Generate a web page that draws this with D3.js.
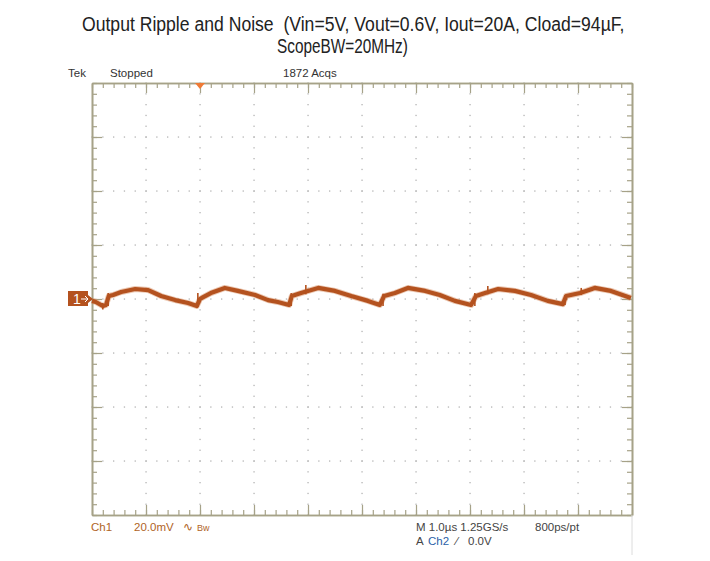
<!DOCTYPE html>
<html>
<head>
<meta charset="utf-8">
<script src="https://cdn.jsdelivr.net/npm/d3@7"></script>
<style>
  body { margin: 0; background: #fff; }
  text { font-family: "Liberation Sans", Arial, sans-serif; white-space: pre; }
</style>
</head>
<body>
<script>
// chart size
const width = 710, height = 561;
const margin = { top: 83, right: 78, bottom: 46, left: 92 };

// title lines, with the span each one fills in the picture
const titleLines = [
  "Output Ripple and Noise  (Vin=5V, Vout=0.6V, Iout=20A, Cload=94\u00b5F,",
  "ScopeBW=20MHz)"
];
const titleSpan = [[82, 625], [277, 408]];

// ripple trace: time in us (trigger at 0), voltage in mV (ch1 ref at 0)
const timeUs  = [-2.00, -1.93, -1.80, -1.74, -1.69, -1.61, -1.46, -1.20, -0.96, -0.72, -0.46, -0.22, -0.06, 0.00,
                 0.06, 0.20, 0.46, 0.70, 1.02, 1.26, 1.44, 1.65, 1.70, 1.87, 2.19, 2.50, 2.80, 3.11, 3.33, 3.41,
                 3.61, 3.85, 4.17, 4.44, 4.72, 5.02, 5.11, 5.28, 5.52, 5.83, 6.13, 6.44, 6.72, 6.78, 7.04, 7.31,
                 7.61, 7.98];
const rippleMv = [-0.7, -1.1, -2.6, -2.2, 1.1, 1.5, 2.6, 3.7, 3.3, 1.1, -0.4, -1.5, -2.6, 0.0,
                  0.7, 2.2, 4.1, 3.0, 1.5, -0.4, -1.1, -2.2, 1.1, 2.2, 4.1, 3.0, 1.1, -0.7, -2.2, 1.1,
                  2.2, 4.1, 3.0, 1.5, -0.7, -2.2, 1.1, 2.2, 3.7, 3.0, 1.5, -0.7, -1.9, 1.1, 2.2, 4.1,
                  3.0, 0.4];

// switching noise spikes: time, low and high voltage (mV)
const spikeT  = [-1.80, -1.70, -0.04, 1.69, 1.96, 3.39, 5.09, 5.33, 6.76, 7.06];
const spikeLo = [-3.9, -2.6, -3.0, -2.6, 1.8, -2.6, -2.6, 1.8, -2.2, 1.5];
const spikeHi = [-1.5, 2.2, 2.2, 2.2, 5.2, 1.9, 2.2, 4.8, 1.5, 4.1];

// scope readouts
const topLabels = [["Tek", 68], ["Stopped", 110], ["1872 Acqs", 283]];
const chLabels = ["Ch1", "20.0mV", "\u223f", "Bw"];
const timebaseLabels = ["M 1.0\u00b5s 1.25GS/s", "800ps/pt"];
const triggerLabels = ["A", "Ch2", "\u2215", "0.0V"];

const frameColor = "#a6a288", gridColor = "#b4b4b4", traceColor = "#b4521f";
const readoutFont = "\"DejaVu Sans Condensed\", \"Liberation Sans\", sans-serif";

const svg = d3.select("body").append("svg")
  .attr("width", width)
  .attr("height", height);

const x = d3.scaleLinear().domain([-2, 8]).range([margin.left, width - margin.right]);
const y = d3.scaleLinear().domain([-80, 80]).range([height - margin.bottom, margin.top]);

// title (the original face is a condensed one, so squeeze each line to its width)
svg.append("g").selectAll("text")
  .data(titleLines)
  .enter().append("text")
  .attr("font-size", 21)
  .attr("fill", "#222")
  .text(d => d)
  .each(function(d, i) {
    const k = (titleSpan[i][1] - titleSpan[i][0]) / this.getComputedTextLength();
    d3.select(this).attr("transform", `translate(${titleSpan[i][0]},${31 + i * 22}) scale(${k},1)`);
  });

// dotted graticule
const majorX = d3.range(-1, 8, 1), majorY = d3.range(-60, 61, 20);
const minorX = d3.range(-2, 8.001, 0.2), minorY = d3.range(-80, 80.001, 4);
const dots = [];
majorX.forEach(t => minorY.forEach(v => dots.push([t, v])));
majorY.forEach(v => minorX.forEach(t => dots.push([t, v])));
svg.append("g").selectAll("rect")
  .data(dots)
  .enter().append("rect")
  .attr("x", d => x(d[0]) - 0.6)
  .attr("y", d => y(d[1]) - 0.6)
  .attr("width", 1.3)
  .attr("height", 1.3)
  .attr("fill", gridColor);

// frame with inward ticks, built from axes
function frame(axis, transform, scale, minor, major) {
  const gMinor = svg.append("g").attr("transform", transform)
    .call(axis(scale).tickValues(minor).tickSize(-5).tickSizeOuter(0).tickFormat(""));
  const gMajor = svg.append("g").attr("transform", transform)
    .call(axis(scale).tickValues(major).tickSize(-10).tickSizeOuter(0).tickFormat(""));
  [gMinor, gMajor].forEach(g => {
    g.selectAll("line").attr("stroke", frameColor).attr("stroke-width", 1.2);
    g.select(".domain").attr("stroke", frameColor).attr("stroke-width", 1.6);
  });
}
frame(d3.axisTop, `translate(0,${margin.top})`, x, minorX, majorX);
frame(d3.axisBottom, `translate(0,${height - margin.bottom})`, x, minorX, majorX);
frame(d3.axisLeft, `translate(${margin.left},0)`, y, minorY, majorY);
frame(d3.axisRight, `translate(${width - margin.right},0)`, y, minorY, majorY);

// thin edge line below the frame on the right
svg.append("line")
  .attr("x1", x(8)).attr("x2", x(8))
  .attr("y1", y(-80)).attr("y2", 555)
  .attr("stroke", "#dcdcdc");

// trace
const line = d3.line().x(d => x(d[0])).y(d => y(d[1]));
svg.append("path")
  .datum(timeUs.map((t, i) => [t, rippleMv[i]]))
  .attr("d", line)
  .attr("fill", "none")
  .attr("stroke", "#d9946a")
  .attr("stroke-width", 6)
  .attr("stroke-linejoin", "round")
  .attr("opacity", 0.5);
svg.append("path")
  .datum(timeUs.map((t, i) => [t, rippleMv[i]]))
  .attr("d", line)
  .attr("fill", "none")
  .attr("stroke", traceColor)
  .attr("stroke-width", 4.2)
  .attr("stroke-linejoin", "round");
svg.append("g").selectAll("line")
  .data(spikeT)
  .enter().append("line")
  .attr("x1", d => x(d)).attr("x2", d => x(d))
  .attr("y1", (d, i) => y(spikeLo[i]))
  .attr("y2", (d, i) => y(spikeHi[i]))
  .attr("stroke", traceColor)
  .attr("stroke-width", 1.6);

// trigger position marker
svg.append("path")
  .attr("d", `M${x(0) - 5},${margin.top} L${x(0) + 5},${margin.top} L${x(0)},${margin.top + 6} Z`)
  .attr("fill", "#f07a35");

// channel 1 ground marker
const c1 = svg.append("g").attr("transform", `translate(68,${y(0)})`);
c1.append("rect").attr("x", 0).attr("y", -8).attr("width", 20).attr("height", 15).attr("fill", traceColor);
c1.append("path").attr("d", "M20,-4 L25,0 L20,4 Z").attr("fill", traceColor);
c1.append("text").attr("x", 5).attr("y", 5).attr("font-size", 14).attr("fill", "#fff").text("1");
c1.append("path").attr("d", "M13,0 H20 M17,-3 L20,0 L17,3").attr("stroke", "#fff").attr("stroke-width", 1).attr("fill", "none");

// readouts
svg.append("g").selectAll("text")
  .data(topLabels)
  .enter().append("text")
  .attr("x", d => d[1]).attr("y", 77)
  .attr("font-family", readoutFont)
  .attr("font-size", 11.5).attr("fill", "#333")
  .text(d => d[0]);

const chX = [91, 134, 183, 197];
svg.append("g").selectAll("text")
  .data(chLabels)
  .enter().append("text")
  .attr("x", (d, i) => chX[i]).attr("y", 531)
  .attr("font-family", readoutFont)
  .attr("font-size", (d, i) => i == 3 ? 9 : 11.5)
  .attr("fill", "#b0641f")
  .text(d => d);

const tbX = [416, 535];
svg.append("g").selectAll("text")
  .data(timebaseLabels)
  .enter().append("text")
  .attr("x", (d, i) => tbX[i]).attr("y", 531)
  .attr("font-family", readoutFont)
  .attr("font-size", 11.5).attr("fill", "#444")
  .text(d => d);

const trX = [416, 428, 456, 468];
svg.append("g").selectAll("text")
  .data(triggerLabels)
  .enter().append("text")
  .attr("x", (d, i) => trX[i]).attr("y", 545)
  .attr("font-family", readoutFont)
  .attr("font-size", 11.5)
  .attr("fill", (d, i) => i == 1 ? "#2b5fa8" : "#444")
  .text(d => d);
</script>
</body>
</html>
